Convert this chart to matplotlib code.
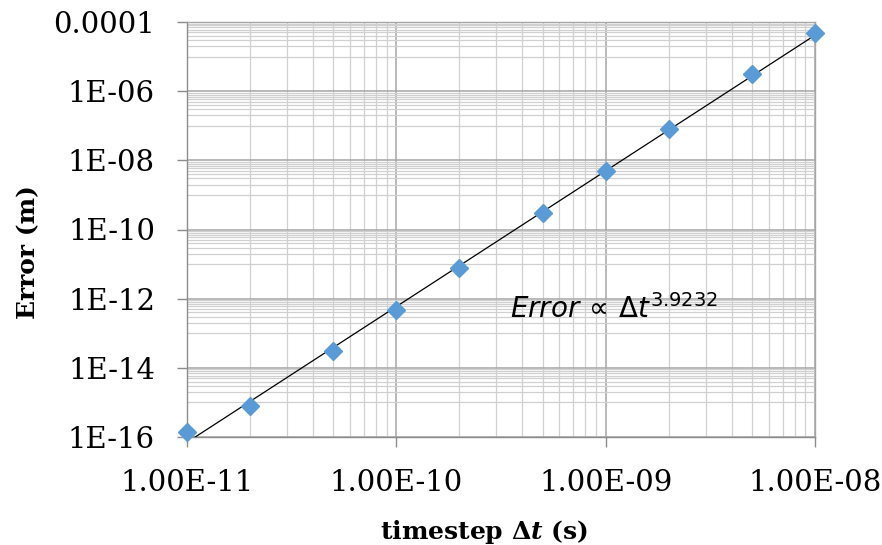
import numpy as np
import matplotlib
matplotlib.use("Agg")
import matplotlib.pyplot as plt
from matplotlib.ticker import FixedLocator, NullFormatter

# data
timestep = [1e-11, 2e-11, 5e-11, 1e-10, 2e-10, 5e-10, 1e-9, 2e-9, 5e-9, 1e-8]
error = [1.4e-16, 7.9e-16, 3.1e-14, 4.7e-13, 7.7e-12, 3.0e-10, 4.9e-9, 8.0e-8, 3.1e-6, 4.7e-5]
x_ticks = [1e-11, 1e-10, 1e-9, 1e-8]
x_tick_labels = ["1.00E-11", "1.00E-10", "1.00E-09", "1.00E-08"]
y_ticks = [1e-16, 1e-14, 1e-12, 1e-10, 1e-8, 1e-6, 1e-4]
y_tick_labels = ["1E-16", "1E-14", "1E-12", "1E-10", "1E-08", "1E-06", "0.0001"]
annotation = r"$Error\,\propto\,\Delta t^{3.9232}$"
x_title = r"timestep $\Delta t$ (s)"
y_title = "Error (m)"

plt.rcParams['mathtext.rm'] = 'DejaVu Serif:bold'
plt.rcParams['mathtext.it'] = 'DejaVu Serif:bold:italic'
plt.rcParams['mathtext.bf'] = 'DejaVu Serif:bold'

W, H = 882, 545
fig = plt.figure(figsize=(8.82, 5.45), dpi=100)
ax = fig.add_axes([187/W, 1-437/H, (815-187)/W, (437-22)/H])
ax.set_xscale('log')
ax.set_yscale('log')
ax.set_xlim(1e-11, 1e-8)
ax.set_ylim(1e-16, 1e-4)

# minor grid positions
xminor = [k * 10.0**e for e in range(-11, -8) for k in range(2, 10)]
yminor = [k * 10.0**(e + 1) for e in range(-16, -4, 2) for k in range(1, 10)]
ax.xaxis.set_major_locator(FixedLocator(x_ticks))
ax.xaxis.set_minor_locator(FixedLocator(xminor))
ax.yaxis.set_major_locator(FixedLocator(y_ticks))
ax.yaxis.set_minor_locator(FixedLocator(yminor))
ax.set_xticklabels(x_tick_labels)
ax.set_yticklabels(y_tick_labels)
ax.xaxis.set_minor_formatter(NullFormatter())
ax.yaxis.set_minor_formatter(NullFormatter())

ax.grid(which='major', color='#a6a6a6', linewidth=1.1)
ax.grid(which='minor', color='#d0d0d0', linewidth=0.9)
ax.set_axisbelow(True)
for s in ax.spines.values():
    s.set_color('#a6a6a6')
    s.set_linewidth(1.0)
ax.spines['left'].set_color('#8c8c8c')
ax.spines['bottom'].set_color('#8c8c8c')

ax.tick_params(which='major', length=7, width=1.0, color='#8c8c8c', direction='out',
               labelsize=21)
ax.tick_params(axis='y', which='major', pad=16)
ax.tick_params(axis='x', which='major', pad=16)
ax.tick_params(which='minor', length=0)
for lab in ax.get_xticklabels() + ax.get_yticklabels():
    lab.set_fontfamily('DejaVu Serif')

# power-law trendline fit
lx = np.log10(timestep)
ly = np.log10(error)
b, a = np.polyfit(lx, ly, 1)
xf = np.array([1e-11, 1e-8])
yf = 10**(a + b*np.log10(xf))
ax.plot(xf, yf, color='black', linewidth=0.9, zorder=3)

ax.plot(timestep, error, linestyle='none', marker='D', markersize=9.5,
        color='#5b9bd5', zorder=4, clip_on=False)

ax.text(3.5e-10, 2.75e-13, annotation, fontsize=20, math_fontfamily='dejavusans',
        ha='left', va='baseline')

fig.text(484/W, 1-532/H, x_title, fontsize=18, fontweight='bold',
         fontfamily='DejaVu Serif', math_fontfamily='custom', ha='center', va='center')
fig.text(28/W, 1-252/H, y_title, fontsize=18, fontweight='bold',
         fontfamily='DejaVu Serif', rotation=90, ha='center', va='center')

fig.savefig("out.png", dpi=100)
